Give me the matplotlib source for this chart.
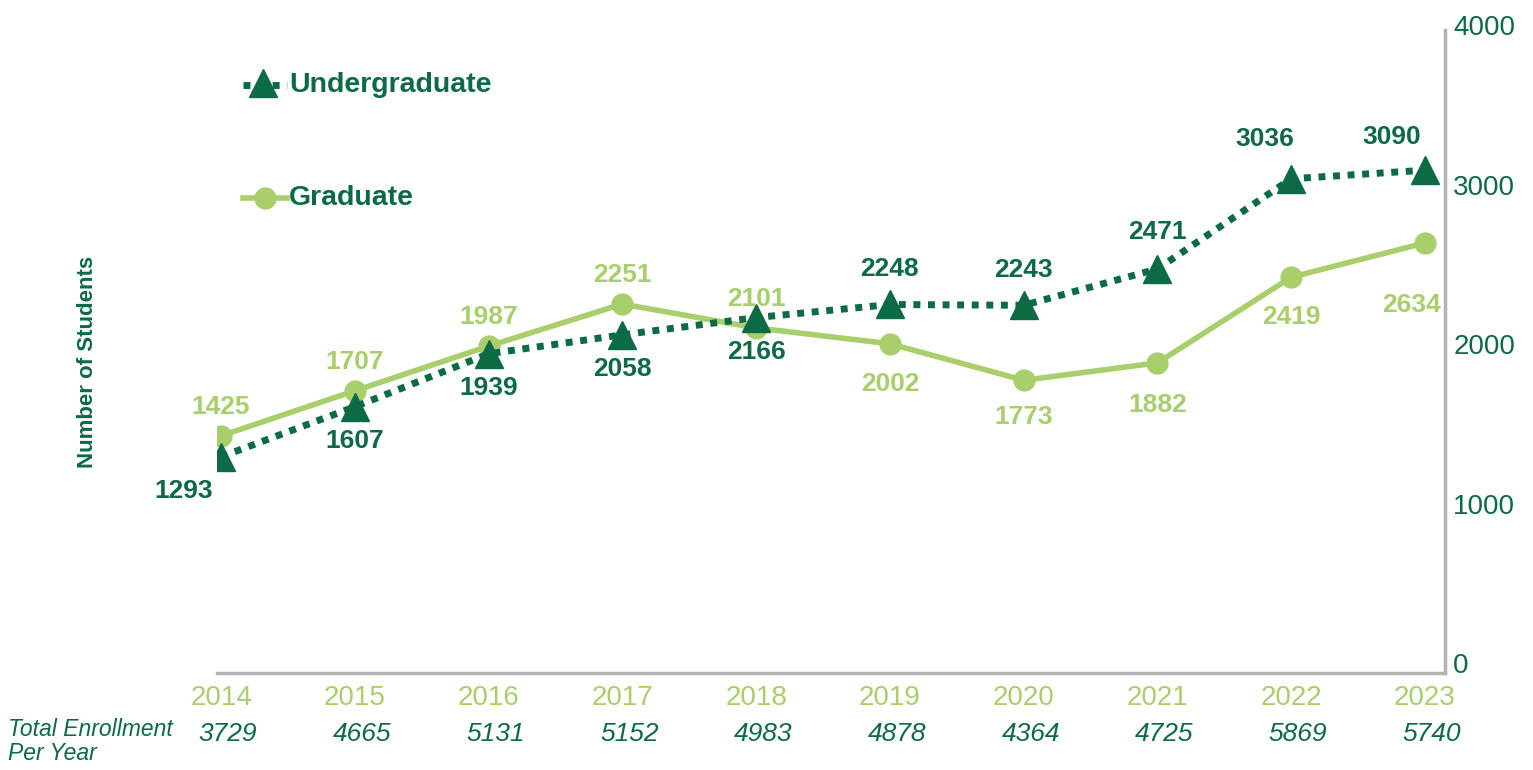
import matplotlib
matplotlib.use("Agg")
import matplotlib.pyplot as plt
from matplotlib.lines import Line2D

plt.rcParams['font.family'] = ['Liberation Sans', 'DejaVu Sans']

years = [2014, 2015, 2016, 2017, 2018, 2019, 2020, 2021, 2022, 2023]
undergrad = [1293, 1607, 1939, 2058, 2166, 2248, 2243, 2471, 3036, 3090]
graduate = [1425, 1707, 1987, 2251, 2101, 2002, 1773, 1882, 2419, 2634]
total = [3729, 4665, 5131, 5152, 4983, 4878, 4364, 4725, 5869, 5740]
yticks = [0, 1000, 2000, 3000, 4000]

# label offsets in points (dx, dy); dy>0 above the point, dy<0 below
ug_off = [(-27, -16), (0, -16), (0, -16), (0, -16), (0, -16),
          (0, 17), (0, 17), (0, 18), (-19, 20), (-24, 15)]
gr_off = [(0, 12), (0, 12), (0, 12), (0, 12), (0, 12),
          (0, -20), (0, -18), (0, -22), (0, -20), (-10, -36)]

DARK = '#0C6A45'
LIGHT = '#A8CF6B'
GRAY = '#B3B3B3'

fig = plt.figure(figsize=(15.33, 7.70), dpi=100)
ax = fig.add_axes([0.1416, 0.126, 0.8010, 0.8415])

ax.plot(years, graduate, color=LIGHT, lw=4, marker='o', ms=15, zorder=2)
ax.plot(years, undergrad, color=DARK, lw=5, ls=(0, (1, 1.1)), marker='^',
        ms=20, zorder=3)

for (x, v), (dx, dy) in zip(zip(years, undergrad), ug_off):
    ax.annotate(str(v), (x, v), xytext=(dx, dy), textcoords='offset points',
                ha='center', va='bottom' if dy > 0 else 'top',
                fontsize=19, fontweight='bold', color=DARK)
for (x, v), (dx, dy) in zip(zip(years, graduate), gr_off):
    ax.annotate(str(v), (x, v), xytext=(dx, dy), textcoords='offset points',
                ha='center', va='bottom' if dy > 0 else 'top',
                fontsize=19, fontweight='bold', color=LIGHT)

ax.set_xlim(2013.97, 2023.15)
ax.set_ylim(-62, 4000)
ax.set_yticks(yticks)
ax.set_yticklabels([str(t) for t in yticks], fontsize=20, color=DARK)
ax.yaxis.tick_right()
ax.tick_params(axis='y', length=0, pad=6)
ax.set_xticks(years)
ax.set_xticklabels([str(y) for y in years], fontsize=20, color=LIGHT)
ax.tick_params(axis='x', length=0, pad=9)

for s in ['top', 'left']:
    ax.spines[s].set_visible(False)
for s in ['right', 'bottom']:
    ax.spines[s].set_color(GRAY)
    ax.spines[s].set_linewidth(2.5)
ax.spines['right'].set_bounds(-62, 3970)

# Total enrollment row
for x, t in zip(years, total):
    ax.annotate(str(t), (x, 0), xycoords=('data', 'axes fraction'),
                xytext=(5, -44), textcoords='offset points', ha='center',
                va='center', fontsize=19, fontstyle='italic', color=DARK)
fig.text(0.005, 0.037, 'Total Enrollment\nPer Year', fontsize=16.5,
         fontstyle='italic', color=DARK, ha='left', va='center',
         linespacing=1.08)

fig.text(0.057, 0.53, 'Number of Students', rotation=90, fontsize=16,
         fontweight='bold', color=DARK, ha='center', va='center')

# Legend (drawn manually in figure pixel coordinates)
H = 770.0
W = 1533.0
def fx(px):
    return px / W
def fy(py):
    return 1 - py / H

fig.add_artist(Line2D([fx(243), fx(287)], [fy(85), fy(85)], color=DARK, lw=5,
                      ls=(0, (1, 1.1)), transform=fig.transFigure))
fig.add_artist(Line2D([fx(263)], [fy(83)], color=DARK, marker='^', ms=20,
                      ls='none', transform=fig.transFigure))
fig.text(fx(289), fy(85), 'Undergraduate', fontsize=20.5, fontweight='bold',
         color=DARK, ha='left', va='center')

fig.add_artist(Line2D([fx(243), fx(287)], [fy(198), fy(198)], color=LIGHT,
                      lw=4, transform=fig.transFigure))
fig.add_artist(Line2D([fx(265)], [fy(198)], color=LIGHT, marker='o', ms=15,
                      ls='none', transform=fig.transFigure))
fig.text(fx(289), fy(198), 'Graduate', fontsize=20.5, fontweight='bold',
         color=DARK, ha='left', va='center')

fig.savefig('out.png', dpi=100, facecolor='white')
